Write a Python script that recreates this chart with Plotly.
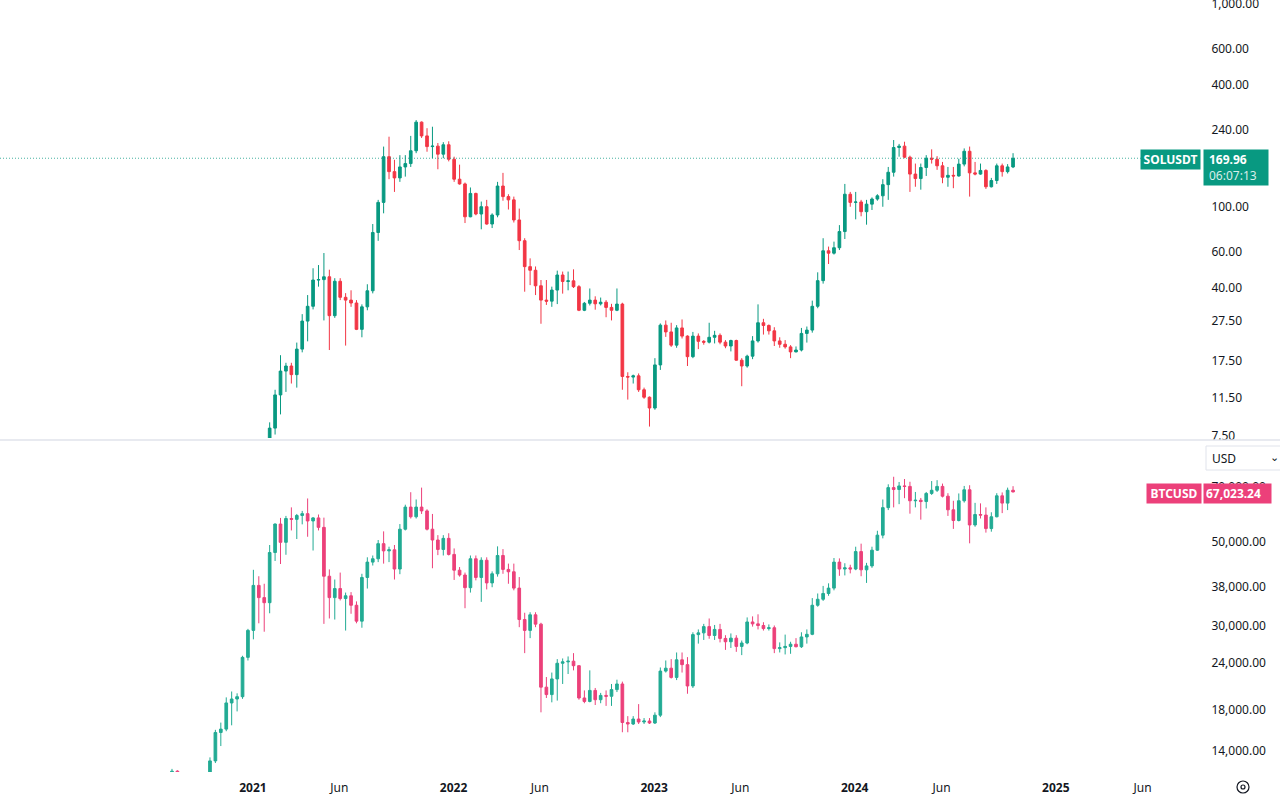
import math
import pandas as pd
import plotly.graph_objects as go

W, H = 1280, 796

# ---------------- data (10-day-ish candles) ----------------
sol_open = [6.4, 7.96, 11.6, 15.2, 16.1, 14.6, 19.5, 26.8, 31.7, 42.7,
            42.9, 44.3, 28.5, 42.1, 35.1, 34.0, 32.9, 24.4, 31.5, 37.8,
            73.2, 103, 173, 146, 136, 154, 160, 185, 256, 219,
            194, 195, 178, 198, 168, 134, 127, 87.5, 114, 90.3,
            98.1, 80.6, 89.3, 124, 110, 106, 84.4, 66.7, 49.7, 47.7,
            40, 34, 33.6, 38.1, 45.2, 42, 42.3, 39.6, 30.3, 32.8,
            34, 32.6, 33.2, 31.3, 30.3, 32.5, 14.3, 14.2, 14.4, 12.3,
            11.3, 10, 16.3, 25.6, 23.7, 20.4, 24.8, 22.6, 17.9, 22.6,
            21.3, 21.1, 22.3, 22.8, 21.1, 20.2, 21.5, 17.2, 16.1, 18,
            21.4, 26.3, 25.5, 24, 21.4, 20.6, 20, 18.9, 19.3, 23.3,
            24.2, 31.7, 42.4, 59.5, 57.9, 61.6, 74, 113, 103, 103.5,
            92.7, 101, 107, 111, 126, 145, 192, 195, 172, 142,
            135, 153, 170, 168, 156, 137, 140, 139, 159, 184,
            144, 142, 148, 123, 132, 156, 146, 154]
sol_high = [8.5, 12.3, 18.2, 16.7, 16.7, 21.0, 29.0, 36.0, 48.8, 50.6,
            58.0, 48.0, 43.6, 43.6, 36.8, 38.0, 34.0, 32.4, 40.7, 80.6,
            106, 194, 217, 167, 176, 176, 219, 262, 258, 239,
            243, 202, 204, 206, 173, 158, 129, 122, 115, 104,
            106, 91, 130, 144, 113, 110, 96, 68.6, 54.6, 49.8,
            42.7, 42.7, 39.6, 47.5, 47, 47, 48.2, 40.3, 33.3, 38.8,
            35.5, 35, 34, 32.6, 38.8, 33, 15, 14.6, 14.8, 12.6,
            11.4, 17.6, 26.1, 27, 26.3, 25.6, 27.3, 22.8, 23.7, 23.3,
            21.6, 26.3, 24, 23.3, 21.6, 21.7, 21.7, 17.6, 18.3, 22.6,
            32.4, 27.5, 25.8, 25, 22.3, 21.6, 20.4, 20.1, 24.8, 25.2,
            33.8, 46.6, 68.6, 62.4, 66, 79.6, 127, 116, 116, 106,
            106, 109, 113, 134, 154, 209, 200, 205, 175, 160,
            160, 176, 188, 174, 163, 154, 154, 169, 190, 194,
            163, 160, 150, 136, 160, 160, 159, 180]
sol_low = [6.2, 7.4, 9.3, 12.0, 13.2, 12.6, 18.8, 21.3, 30.6, 39.6,
           27.0, 19.3, 27.8, 34.0, 20.3, 31.5, 24.2, 22.3, 30.3, 36.7,
           66.6, 91, 134, 116, 130, 138, 154, 180, 214, 183,
           170, 150, 170, 164, 130, 126, 81.5, 87, 89, 75.9,
           80, 77, 87, 105, 95, 82, 60, 37.4, 40.3, 36,
           26, 32.2, 31.5, 32.5, 36.6, 38, 39, 30, 30, 32,
           30.5, 32, 28, 27, 30, 12.3, 11, 13.2, 12, 11.1,
           8.1, 9.8, 15.4, 22.4, 20, 19.8, 22, 16.1, 17.6, 19.5,
           20.5, 20.8, 20.8, 20.6, 19.7, 19, 17.1, 12.8, 15.8, 17.4,
           21, 23, 23, 20.2, 19.8, 19.6, 17.6, 18.8, 19, 21,
           23.5, 31, 41, 51.2, 57, 60, 68, 98, 85, 88,
           80, 94.5, 105, 98, 106, 138, 173, 170, 116, 123,
           119, 139, 160, 149, 128, 123, 121, 138, 155, 110,
           140, 141, 120, 122, 127, 138, 143, 152]
sol_close = [7.96, 11.6, 15.2, 16.1, 14.6, 19.5, 26.8, 31.7, 42.7, 42.9,
             44.3, 28.5, 42.1, 35.1, 34.0, 32.9, 24.4, 31.5, 37.8, 73.2,
             103, 173, 146, 136, 154, 160, 185, 256, 219, 194,
             195, 178, 198, 168, 134, 127, 87.5, 114, 90.3, 98.1,
             80.6, 89.3, 124, 110, 106, 84.4, 66.7, 49.7, 47.7, 40,
             34, 33.6, 38.1, 45.2, 42, 42.3, 39.6, 30.3, 32.8, 34,
             32.6, 33.2, 31.3, 30.3, 32.5, 14.3, 14.2, 14.4, 12.3, 11.3,
             10, 16.3, 25.6, 23.7, 20.4, 24.8, 22.6, 17.9, 22.6, 21.3,
             21.1, 22.3, 22.8, 21.1, 20.2, 21.5, 17.2, 16.1, 18, 21.4,
             26.3, 25.5, 24, 21.4, 20.6, 20, 18.9, 19.3, 23.3, 24.2,
             31.7, 42.4, 59.5, 57.9, 61.6, 74, 113, 103, 103.5, 92.7,
             101, 107, 111, 126, 145, 192, 195, 172, 142, 135,
             153, 170, 168, 156, 137, 140, 139, 159, 184, 144,
             142, 148, 123, 132, 156, 146, 154, 169.96]

N = None
btc_open = [12080, 12230, N, N, N, N, N, 11900, 13020, 15480,
            15800, 18530, 18980, 19250, 24460, 28830, 37920, 35200, 34130, 46330,
            55110, 49300, 57000, 56700, 58060, 58700, 56150, 57200, 54000, 40100,
            35200, 37200, 35000, 35600, 33600, 30500, 39800, 43700, 44600, 48900,
            46800, 47100, 41900, 53400, 61100, 57600, 61100, 59700, 53400, 50000,
            47200, 50500, 45800, 41600, 40400, 37400, 44600, 39800, 44200, 38500,
            40700, 45500, 41800, 41200, 37300, 30800, 28830, 31700, 29950, 20400,
            19500, 21450, 23600, 23800, 23900, 23250, 19100, 18700, 20000, 18900,
            19400, 19300, 20100, 20800, 16450, 16300, 16800, 16500, 16600, 16400,
            17200, 22500, 22900, 21650, 24100, 23400, 20550, 28100, 28400, 29500,
            27950, 29000, 27450, 26900, 27500, 26150, 26700, 30350, 30000, 29700,
            29150, 29300, 25800, 25950, 26150, 26500, 26100, 27700, 28150, 33600,
            34850, 36100, 37300, 43700, 41900, 42200, 41900, 46600, 41700, 42700,
            47000, 51500, 60900, 68800, 68000, 69500, 69300, 63500, 63700, 63200,
            66400, 67700, 69300, 65300, 60100, 56300, 63500, 67900, 54800, 58400,
            58200, 53600, 57600, 65450, 62600, 67700]
btc_high = [12400, 12300, N, N, N, N, N, 13300, 15730, 16440,
            19170, 19870, 19650, 24700, 29100, 41700, 40100, 38300, 48500, 55300,
            57200, 57900, 61000, 58600, 59700, 64400, 57500, 58400, 57300, 41800,
            39300, 41000, 36300, 36400, 34400, 40700, 45000, 45500, 50000, 52700,
            48000, 48500, 55100, 62000, 66900, 64000, 68800, 60300, 58600, 51500,
            51500, 52100, 47500, 42400, 41000, 45500, 45500, 45000, 45000, 41300,
            48100, 47300, 43300, 43300, 39900, 32100, 32200, 32200, 30200, 21700,
            22300, 24200, 24300, 24600, 25100, 23300, 20000, 22600, 20300, 19700,
            20000, 20800, 21350, 21100, 17100, 17100, 18400, 16900, 16900, 17500,
            23000, 24000, 24200, 25200, 25200, 24500, 28500, 29000, 30000, 31000,
            29800, 30000, 28000, 28300, 28000, 27100, 31200, 31400, 31800, 30300,
            29900, 29700, 26800, 28100, 26900, 27500, 28500, 29000, 35100, 36100,
            37800, 38400, 44800, 44700, 43400, 43000, 48000, 48900, 43500, 48000,
            52900, 64000, 70200, 73500, 71200, 72500, 71300, 67000, 64600, 67000,
            71600, 72000, 70500, 66500, 63500, 66400, 69500, 69800, 62700, 62500,
            61000, 59200, 66500, 66800, 68800, 69400]
btc_low = [11500, 11200, N, N, N, N, N, 11500, 12850, 14250,
           15600, 16170, 17600, 19000, 24000, 27300, 30100, 28600, 32000, 44000,
           43200, 45700, 53000, 50300, 55000, 51000, 46900, 53000, 30000, 31000,
           30800, 34600, 28800, 31900, 30100, 29300, 37200, 42800, 43700, 43300,
           43700, 39300, 40600, 53000, 57000, 57000, 58600, 53000, 42100, 45600,
           45500, 45500, 39200, 40000, 33000, 36300, 39100, 34300, 37000, 37500,
           40000, 40700, 38300, 36800, 29400, 25100, 27500, 29400, 17500, 19100,
           18600, 18800, 20800, 22100, 22600, 18900, 18500, 18600, 18300, 18500,
           18200, 18200, 19800, 15500, 15500, 16200, 16300, 16300, 16300, 16300,
           17000, 22300, 21500, 21300, 22300, 19600, 20300, 26600, 27200, 27400,
           27200, 26800, 25600, 25900, 25300, 24800, 26500, 29500, 29000, 28800,
           28800, 25100, 25200, 24900, 25000, 26000, 25900, 26600, 28000, 33300,
           34500, 35600, 36800, 40200, 40300, 40800, 41600, 40100, 38500, 42200,
           46800, 50500, 60000, 61000, 62200, 64500, 58700, 61000, 56600, 60600,
           65800, 67000, 64800, 57900, 53500, 56000, 62800, 49000, 54200, 57000,
           52300, 52600, 57400, 58900, 60000, 66800]
btc_close = [12230, 12080, N, N, N, N, N, 13020, 15480, 15800,
             18530, 18980, 19250, 24460, 28830, 37920, 35200, 34130, 46330, 55110,
             49300, 57000, 56700, 58060, 58700, 56150, 57200, 54000, 40100, 35200,
             37200, 35000, 35600, 33600, 30500, 39800, 43700, 44600, 48900, 46800,
             47100, 41900, 53400, 61100, 57600, 61100, 59700, 53400, 50000, 47200,
             50500, 45800, 41600, 40400, 37400, 44600, 39800, 44200, 38500, 40700,
             45500, 41800, 41200, 37300, 30800, 28830, 31700, 29950, 20400, 19500,
             21450, 23600, 23800, 23900, 23250, 19100, 18700, 20000, 18900, 19400,
             19300, 20100, 20800, 16450, 16300, 16800, 16500, 16600, 16400, 17200,
             22500, 22900, 21650, 24100, 23400, 20550, 28100, 28400, 29500, 27950,
             29000, 27450, 26900, 27500, 26150, 26700, 30350, 30000, 29700, 29150,
             29300, 25800, 25950, 26150, 26500, 26100, 27700, 28150, 33600, 34850,
             36100, 37300, 43700, 41900, 42200, 41900, 46600, 41700, 42700, 47000,
             51500, 60900, 68800, 68000, 69500, 69300, 63500, 63700, 63200, 66400,
             67700, 69300, 65300, 60100, 56300, 63500, 67900, 54800, 58400, 58200,
             53600, 57600, 65450, 62600, 67700, 67023.24]

sol_ticks = [7.5, 11.5, 17.5, 27.5, 40, 60, 100, 240, 400, 600, 1000]
btc_ticks = [14000, 18000, 24000, 30000, 38000, 50000, 70000]
time_ticks = ["2021-01-01", "2021-06-07", "2022-01-01", "2022-06-07", "2023-01-01",
              "2023-06-07", "2024-01-01", "2024-06-07", "2025-01-01", "2025-06-08"]
time_labels = ["<b>2021</b>", "Jun", "<b>2022</b>", "Jun", "<b>2023</b>", "Jun",
               "<b>2024</b>", "Jun", "<b>2025</b>", "Jun"]

sol_last = 169.96
btc_last = 67023.24
sol_timer = "06:07:13"

# ---------------- positions / styles ----------------
base = pd.Timestamp("2021-01-01")
bar_dates = pd.date_range(base + pd.Timedelta(days=-147.41), periods=len(btc_close),
                          freq=pd.Timedelta(hours=237))
sol_dates = bar_dates[len(btc_close) - len(sol_close):]
x_left = base + pd.Timedelta(days=-460.4)
x_right = base + pd.Timedelta(days=1728.9)
line_end = base + pd.Timedelta(days=1616)

SOL_UP, SOL_DN = "#089981", "#F23645"
BTC_UP, BTC_DN = "#22AB94", "#EC407A"
TXT = "#131722"
FONT = "Noto Sans, Open Sans, sans-serif"

def py(p):
    return 1 - p / H

def px(p):
    return p / W

XDOM = [0, 1203 / W]

fig = go.Figure()
fig.add_trace(go.Candlestick(
    x=sol_dates, open=sol_open, high=sol_high, low=sol_low, close=sol_close,
    xaxis="x", yaxis="y", showlegend=False, hoverinfo="skip",
    increasing=dict(line=dict(color=SOL_UP, width=1), fillcolor=SOL_UP),
    decreasing=dict(line=dict(color=SOL_DN, width=1), fillcolor=SOL_DN)))
fig.add_trace(go.Scatter(
    x=[x_left, line_end], y=[sol_last, sol_last], mode="lines",
    line=dict(color="rgba(8,153,129,0.75)", width=1, dash="1px,2px"), xaxis="x", yaxis="y",
    showlegend=False, hoverinfo="skip"))
fig.add_trace(go.Candlestick(
    x=bar_dates, open=btc_open, high=btc_high, low=btc_low, close=btc_close,
    xaxis="x2", yaxis="y2", showlegend=False, hoverinfo="skip",
    increasing=dict(line=dict(color=BTC_UP, width=1), fillcolor=BTC_UP),
    decreasing=dict(line=dict(color=BTC_DN, width=1), fillcolor=BTC_DN)))

common_y = dict(type="log", side="right", showgrid=False, zeroline=False, showline=False,
                ticks="outside", ticklen=5, tickcolor="rgba(0,0,0,0)",
                ticklabeloverflow="allow", automargin=False,
                tickfont=dict(family=FONT, size=12, color=TXT), fixedrange=True)

fig.update_layout(
    width=W, height=H, autosize=False,
    margin=dict(l=0, r=0, t=0, b=0, autoexpand=False),
    paper_bgcolor="white", plot_bgcolor="white",
    font=dict(family=FONT, size=12, color=TXT),
    xaxis=dict(domain=XDOM, anchor="y", type="date", range=[x_left, x_right],
               showticklabels=False, showgrid=False, zeroline=False, showline=False,
               automargin=False, rangeslider=dict(visible=False)),
    xaxis2=dict(domain=XDOM, anchor="y2", type="date", range=[x_left, x_right],
                matches="x", showgrid=False, zeroline=False, showline=False,
                tickvals=time_ticks, ticktext=time_labels, automargin=False,
                ticks="outside", ticklen=5, tickcolor="rgba(0,0,0,0)",
                tickfont=dict(family=FONT, size=12, color=TXT),
                rangeslider=dict(visible=False)),
    yaxis=dict(domain=[py(438), 1], anchor="x", range=[0.8522, 3.0099],
               tickvals=sol_ticks, ticktext=[f"{v:,.2f}" for v in sol_ticks],
               ticklabelshift=2, **common_y),
    yaxis2=dict(domain=[py(772), py(441)], anchor="x2", range=[4.0852, 4.9609],
                tickvals=btc_ticks, ticktext=[f"{v:,.2f}" for v in btc_ticks],
                ticklabelshift=2, **common_y),
)

shapes = [
    dict(type="line", xref="paper", yref="paper", x0=0, x1=1, y0=py(440), y1=py(440),
         line=dict(color="#E0E3EB", width=1.5)),
    dict(type="rect", xref="paper", yref="paper", x0=px(1206), x1=px(1282),
         y0=py(470), y1=py(446), fillcolor="white", line=dict(color="#E0E3EB", width=1),
         layer="above"),
    dict(type="circle", xref="paper", yref="paper", x0=px(1237), x1=px(1249),
         y0=py(793), y1=py(781), line=dict(color=TXT, width=1.2), fillcolor="rgba(0,0,0,0)"),
    dict(type="circle", xref="paper", yref="paper", x0=px(1241), x1=px(1245),
         y0=py(789), y1=py(785), line=dict(color=TXT, width=1.2), fillcolor="rgba(0,0,0,0)"),
]
fig.update_layout(shapes=shapes)

ann = [
    dict(text="<b>SOLUSDT</b>", xref="paper", x=px(1201), xanchor="right",
         yref="y", y=math.log10(sol_last), yanchor="middle", yshift=-1, showarrow=False,
         bgcolor=SOL_UP, font=dict(family=FONT, size=12, color="white"),
         width=55, height=15, borderpad=2),
    dict(text=f"<b>{sol_last:.2f}</b><br><span style='color:rgba(255,255,255,0.85)'>{sol_timer}</span>",
         xref="paper", x=px(1203.3), xanchor="left", align="left",
         yref="y", y=math.log10(sol_last), yanchor="top", yshift=9, showarrow=False,
         bgcolor=SOL_UP, font=dict(family=FONT, size=12, color="white"),
         width=54, height=25, borderpad=5),
    dict(text="<b>BTCUSD</b>", xref="paper", x=px(1202), xanchor="right",
         yref="y2", y=math.log10(btc_last), yanchor="middle", yshift=-1.5, showarrow=False,
         bgcolor=BTC_DN, font=dict(family=FONT, size=12, color="white"),
         width=50, height=15, borderpad=2),
    dict(text=f"<b>{btc_last:,.2f}</b>", xref="paper", x=px(1203.3), xanchor="left",
         align="left", yref="y2", y=math.log10(btc_last), yanchor="middle", yshift=-1.5,
         showarrow=False, bgcolor=BTC_DN, font=dict(family=FONT, size=12, color="white"),
         width=63, height=15, borderpad=2),
    dict(text="USD", xref="paper", x=px(1210), xanchor="left", yref="paper", y=py(458),
         yanchor="middle", showarrow=False, font=dict(family=FONT, size=12, color=TXT)),
    dict(text="⌄", xref="paper", x=px(1274), xanchor="center", yref="paper", y=py(456),
         yanchor="middle", showarrow=False, font=dict(family=FONT, size=11, color=TXT)),
]
fig.update_layout(annotations=ann)

fig.write_html("out.html", config={"displayModeBar": False},
               post_script="document.body.style.margin='0';document.body.style.overflow='hidden';")
